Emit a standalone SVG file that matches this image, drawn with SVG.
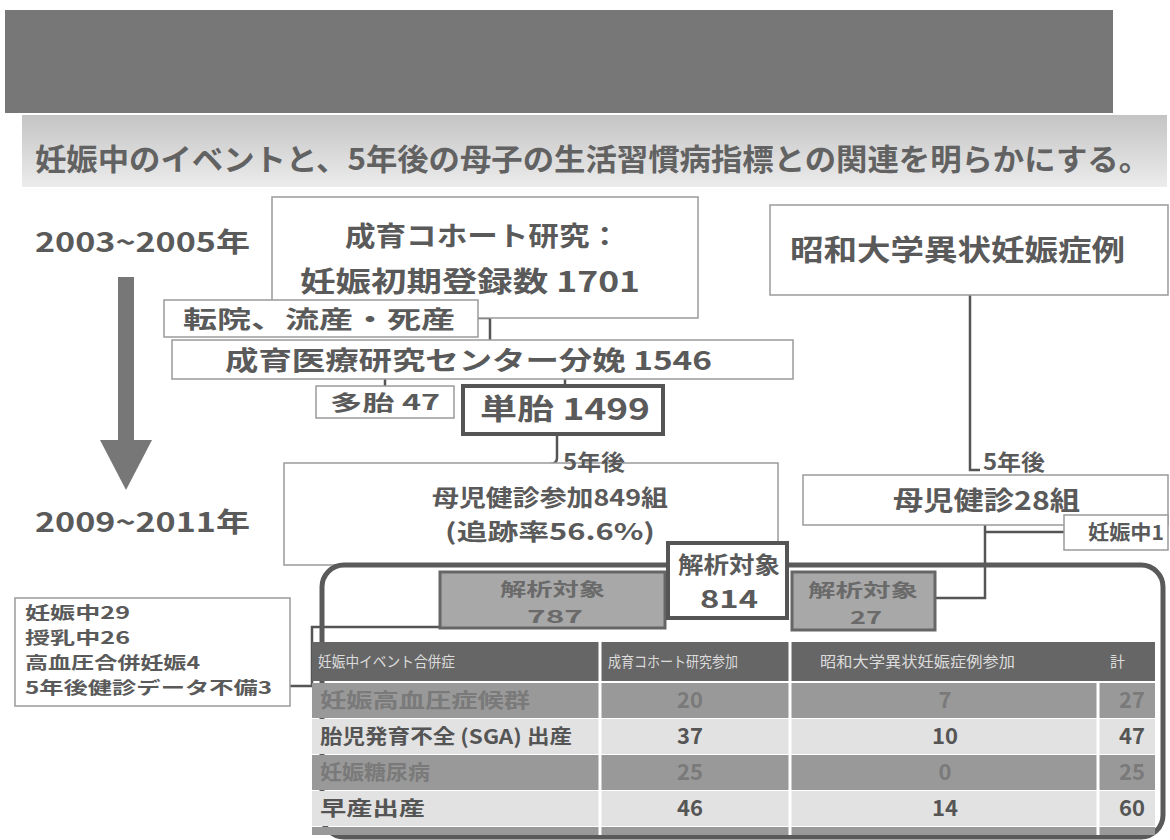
<svg xmlns="http://www.w3.org/2000/svg" width="1170" height="840" viewBox="0 0 1170 840">
<style>
text{font-family:"Noto Sans CJK JP","Noto Sans",sans-serif;font-weight:700;fill:#5a5a5a}
.box{fill:#fff;stroke:#9a9a9a;stroke-width:1.5}
.thick{fill:#fff;stroke:#555;stroke-width:4}
.gbox{fill:#a8a8a8;stroke:#666;stroke-width:3}
.ln{fill:none;stroke:#555;stroke-width:2.5}
.c{text-anchor:middle}
.hd{fill:#dcdcdc;font-size:15px;font-weight:400}
.dk{fill:#999}
.lt{fill:#e2e2e2}
.v1{fill:#7a7a7a}
.v2{fill:#555}
.gt{fill:#6a6a6a}
</style>
<defs>
<linearGradient id="sb" x1="0" y1="0" x2="0" y2="1">
<stop offset="0" stop-color="#c4c4c4"/><stop offset="1" stop-color="#ececec"/>
</linearGradient>
</defs>
<rect width="1170" height="840" fill="#fff"/>
<rect id="titlebar" x="5" y="10" width="1108" height="103" fill="#777"/>
<g id="subtitle">
<rect x="22" y="115" width="1145" height="72" fill="url(#sb)"/>
<text x="35" y="170" font-size="30" textLength="1115" lengthAdjust="spacingAndGlyphs" style="fill:#626262">妊娠中のイベントと、5年後の母子の生活習慣病指標との関連を明らかにする。</text>
</g>
<g id="timeline">
<text x="35" y="252" font-size="27" textLength="215" lengthAdjust="spacingAndGlyphs">2003~2005年</text>
<rect x="118" y="277" width="16" height="170" fill="#777"/>
<polygon points="100,440 152,440 126,490" fill="#777"/>
<text x="35" y="532" font-size="27" textLength="215" lengthAdjust="spacingAndGlyphs">2009~2011年</text>
</g>
<g id="connectors">
<path class="ln" d="M478 318 H490 V340"/>
<path class="ln" d="M490 316 H698"/>
<path class="ln" d="M385 379 V386"/>
<path class="ln" d="M565 379 V386"/>
<path class="ln" d="M557 434 V458 Q557 464 550 464"/>
<path class="ln" d="M970 295 V470 H980"/>
<path class="ln" d="M985 525 V598 H935"/>
<path class="ln" d="M985 532 H1064"/>
<path class="ln" d="M440 627 H312 V686 H290"/>
</g>
<g id="n-cohort">
<rect class="box" x="272" y="197" width="426" height="121"/>
<text x="345" y="246" font-size="27" textLength="275" lengthAdjust="spacingAndGlyphs">成育コホート研究：</text>
<text x="300" y="292" font-size="28" textLength="340" lengthAdjust="spacingAndGlyphs">妊娠初期登録数 1701</text>
</g>
<g id="n-transfer">
<rect class="box" x="164" y="300" width="314" height="37"/>
<text x="183" y="328" font-size="24" textLength="272" lengthAdjust="spacingAndGlyphs">転院、流産・死産</text>
</g>
<g id="n-ncchd">
<rect class="box" x="172" y="340" width="621" height="39"/>
<text x="225" y="370" font-size="26" textLength="487" lengthAdjust="spacingAndGlyphs">成育医療研究センター分娩 1546</text>
</g>
<g id="n-multi">
<rect class="box" x="316" y="386" width="138" height="32"/>
<text x="330" y="410" font-size="21" textLength="110" lengthAdjust="spacingAndGlyphs">多胎 47</text>
</g>
<g id="n-single">
<rect class="thick" x="463" y="386" width="200" height="48"/>
<text x="480" y="420" font-size="29" textLength="170" lengthAdjust="spacingAndGlyphs">単胎 1499</text>
</g>
<g id="n-849">
<rect class="box" x="284" y="463" width="494" height="102"/>
<text x="432" y="506" font-size="23" textLength="236" lengthAdjust="spacingAndGlyphs">母児健診参加849組</text>
<text x="445" y="540" font-size="23" textLength="210" lengthAdjust="spacingAndGlyphs">(追跡率56.6%)</text>
</g>
<text id="l-5y-1" x="563" y="470" font-size="22" textLength="62" lengthAdjust="spacingAndGlyphs">5年後</text>
<g id="n-showa">
<rect class="box" x="770" y="205" width="398" height="90"/>
<text x="790" y="261" font-size="29" textLength="335" lengthAdjust="spacingAndGlyphs">昭和大学異状妊娠症例</text>
</g>
<g id="n-28">
<rect class="box" x="803" y="475" width="365" height="50"/>
<text x="893" y="510" font-size="26" textLength="187" lengthAdjust="spacingAndGlyphs">母児健診28組</text>
</g>
<text id="l-5y-2" x="983" y="470" font-size="22" textLength="62" lengthAdjust="spacingAndGlyphs">5年後</text>
<g id="n-preg1">
<rect class="box" x="1064" y="515" width="104" height="35"/>
<text x="1088" y="540" font-size="20" textLength="76" lengthAdjust="spacingAndGlyphs">妊娠中1</text>
</g>
<g id="n-excluded">
<rect class="box" x="15" y="598" width="275" height="108"/>
<text x="25" y="619" font-size="17" textLength="105" lengthAdjust="spacingAndGlyphs">妊娠中29</text>
<text x="25" y="644" font-size="17" textLength="105" lengthAdjust="spacingAndGlyphs">授乳中26</text>
<text x="25" y="669" font-size="17" textLength="175" lengthAdjust="spacingAndGlyphs">高血圧合併妊娠4</text>
<text x="25" y="694" font-size="17" textLength="247" lengthAdjust="spacingAndGlyphs">5年後健診データ不備3</text>
</g>
<g id="frame">
<rect x="322" y="565" width="841" height="272" rx="22" fill="none" stroke="#5a5a5a" stroke-width="5"/>
</g>
<g id="n-787">
<rect class="gbox" x="440" y="572" width="225" height="56"/>
<text class="gt" x="500" y="596" font-size="18" textLength="105" lengthAdjust="spacingAndGlyphs">解析対象</text>
<text class="gt" x="527" y="623" font-size="18" textLength="56" lengthAdjust="spacingAndGlyphs">787</text>
</g>
<g id="n-814">
<rect class="thick" x="668" y="543" width="119" height="75"/>
<text x="678" y="573" font-size="23" textLength="102" lengthAdjust="spacingAndGlyphs">解析対象</text>
<text x="700" y="608" font-size="24" textLength="58" lengthAdjust="spacingAndGlyphs">814</text>
</g>
<g id="n-27">
<rect class="gbox" x="792" y="572" width="143" height="58"/>
<text class="gt" x="808" y="597" font-size="18" textLength="110" lengthAdjust="spacingAndGlyphs">解析対象</text>
<text class="gt" x="850" y="624" font-size="18" textLength="32" lengthAdjust="spacingAndGlyphs">27</text>
</g>
<g id="table">
<rect x="312" y="642" width="843" height="39" fill="#666"/>
<rect class="dk" x="312" y="683" width="843" height="35"/>
<rect class="lt" x="312" y="719" width="843" height="35"/>
<rect class="dk" x="312" y="755" width="843" height="35"/>
<rect class="lt" x="312" y="791" width="843" height="35"/>
<rect class="dk" x="312" y="827" width="843" height="8"/>
<path d="M600 642 V835 M790 642 V835 M1098 683 V835" stroke="#fff" stroke-width="3"/>
<text class="hd" x="318" y="667" textLength="137" lengthAdjust="spacingAndGlyphs">妊娠中イベント合併症</text>
<text class="hd" x="608" y="667" textLength="130" lengthAdjust="spacingAndGlyphs">成育コホート研究参加</text>
<text class="hd" x="820" y="667" textLength="195" lengthAdjust="spacingAndGlyphs">昭和大学異状妊娠症例参加</text>
<text class="hd" x="1110" y="667">計</text>
<text class="v1" x="320" y="708" font-size="20" textLength="210" lengthAdjust="spacingAndGlyphs">妊娠高血圧症候群</text>
<text class="v2" x="320" y="744" font-size="20" textLength="252" lengthAdjust="spacingAndGlyphs">胎児発育不全 (SGA) 出産</text>
<text class="v1" x="320" y="780" font-size="20" textLength="110" lengthAdjust="spacingAndGlyphs">妊娠糖尿病</text>
<text class="v2" x="320" y="816" font-size="20" textLength="105" lengthAdjust="spacingAndGlyphs">早産出産</text>
<text class="c v1" x="690" y="708" font-size="22">20</text>
<text class="c v2" x="690" y="744" font-size="22">37</text>
<text class="c v1" x="690" y="780" font-size="22">25</text>
<text class="c v2" x="690" y="816" font-size="22">46</text>
<text class="c v1" x="945" y="708" font-size="22">7</text>
<text class="c v2" x="945" y="744" font-size="22">10</text>
<text class="c v1" x="945" y="780" font-size="22">0</text>
<text class="c v2" x="945" y="816" font-size="22">14</text>
<text class="c v1" x="1132" y="708" font-size="22">27</text>
<text class="c v2" x="1132" y="744" font-size="22">47</text>
<text class="c v1" x="1132" y="780" font-size="22">25</text>
<text class="c v2" x="1132" y="816" font-size="22">60</text>
</g>
</svg>
